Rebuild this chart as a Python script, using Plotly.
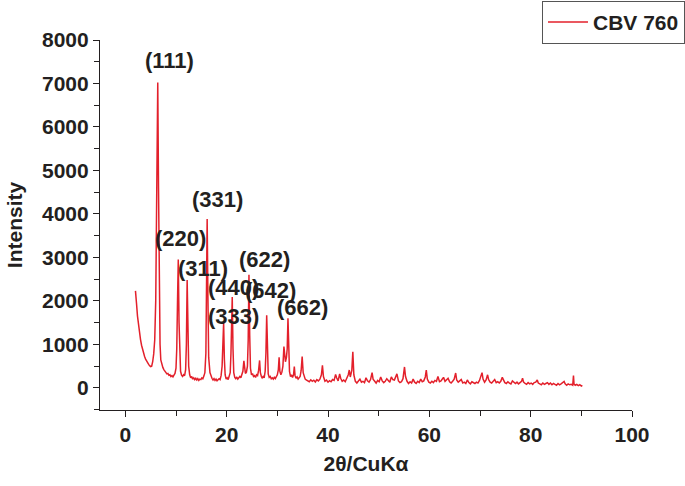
import plotly.graph_objects as go

two_theta = [
    2.0, 2.1, 2.2, 2.4, 2.6, 2.8, 3.0, 3.2, 3.4, 3.6, 3.8, 4.0, 4.2, 4.4, 4.6, 4.8, 5.0, 5.2, 5.4, 5.6, 5.8, 6.0, 6.2, 6.4, 6.55, 6.7, 6.85, 7.0,
    7.2, 7.4, 7.6, 7.8, 8.0, 8.2, 8.4, 8.6, 8.8, 9.0, 9.2, 9.4, 9.6, 9.8, 10.0, 10.15, 10.3, 10.45, 10.6, 10.75, 10.9,
    11.1, 11.3, 11.5, 11.7, 11.9, 12.05, 12.2, 12.35, 12.5, 12.7, 12.9, 13.1, 13.3, 13.5, 13.7, 13.9, 14.1, 14.3, 14.5,
    14.7, 14.9, 15.1, 15.3, 15.5, 15.7, 15.9, 16.05, 16.15, 16.3, 16.45, 16.7, 16.9, 17.1, 17.3, 17.5, 17.7, 17.9, 18.1,
    18.3, 18.5, 18.7, 18.9, 19.1, 19.25, 19.4, 19.55, 19.7, 19.9, 20.1, 20.3, 20.5, 20.7, 20.85, 21.0, 21.1, 21.25, 21.4,
    21.6, 21.8, 22.0, 22.2, 22.4, 22.6, 22.8, 23.0, 23.2, 23.4, 23.55, 23.7, 23.9, 24.1, 24.25, 24.4, 24.55, 24.7, 24.9,
    25.1, 25.3, 25.5, 25.7, 25.9, 26.1, 26.3, 26.5, 26.65, 26.85, 27.0, 27.2, 27.4, 27.6, 27.75, 27.9, 28.05, 28.2, 28.4,
    28.6, 28.8, 29.0, 29.2, 29.4, 29.6, 29.8, 30.0, 30.2, 30.35, 30.5, 30.7, 30.9, 31.1, 31.3, 31.45, 31.6, 31.8, 31.95,
    32.1, 32.25, 32.4, 32.6, 32.8, 33.0, 33.2, 33.35, 33.5, 33.7, 33.9, 34.1, 34.3, 34.5, 34.7, 34.9, 35.1, 35.3, 35.5,
    35.7, 35.9,
    36.0, 36.3, 36.6, 36.9, 37.2, 37.5, 37.8, 38.1, 38.4, 38.7, 38.9, 39.1, 39.4, 39.7, 40.0, 40.3, 40.6, 40.9, 41.2,
    41.5, 41.7, 42.0, 42.3, 42.5, 42.8, 43.1, 43.4, 43.7, 44.0, 44.2, 44.4, 44.7, 44.9, 45.1, 45.4, 45.7, 46.0, 46.3,
    46.6, 46.9, 47.2, 47.5, 47.8, 48.1, 48.4, 48.7, 48.9, 49.2, 49.5, 49.8, 50.1, 50.4, 50.7, 51.0, 51.3, 51.6, 51.9,
    52.2, 52.5, 52.8, 53.1, 53.4, 53.6, 53.9, 54.2, 54.5, 54.8, 55.1, 55.3, 55.6, 55.9, 56.2, 56.5, 56.8, 57.1, 57.4,
    57.7, 58.0, 58.3, 58.6, 58.9, 59.2, 59.4, 59.6, 59.9, 60.2, 60.5, 60.8, 61.1, 61.4, 61.7, 62.0, 62.3, 62.6, 62.8,
    63.1, 63.4, 63.7, 64.0, 64.3, 64.6, 64.9, 65.2, 65.4, 65.7, 66.0, 66.3, 66.6, 66.9, 67.2, 67.5, 67.8, 68.1, 68.4,
    68.7, 69.0, 69.3, 69.6, 69.9, 70.2, 70.4, 70.6, 70.9, 71.2, 71.5, 71.7, 72.0, 72.3, 72.6, 72.9, 73.2, 73.5, 73.8,
    74.1, 74.4, 74.6, 74.9, 75.2, 75.5, 75.8, 76.1, 76.4, 76.7, 77.0, 77.3, 77.6, 77.9, 78.2, 78.4, 78.6, 78.9, 79.2,
    79.5, 79.8, 80.1, 80.4, 80.7, 81.0, 81.3, 81.5, 81.8, 82.1, 82.4, 82.7, 83.0, 83.3, 83.6, 83.9, 84.2, 84.5, 84.8,
    85.1, 85.4, 85.7, 86.0, 86.3, 86.6, 86.8, 87.1, 87.4, 87.7, 88.0, 88.3, 88.45, 88.55, 88.8, 89.1, 89.4, 89.7, 90.0,
    90.2,
]

intensity = [
    2230, 2150, 1950, 1650, 1420, 1250, 1110, 980, 880, 800, 720, 660, 610, 570, 540, 510, 490, 500, 600, 780, 1100, 2000, 4300, 7020, 4600, 2000, 1000, 640,
    520, 470, 420, 380, 350, 320, 330, 290, 300, 260, 280, 250, 290, 330, 450, 900, 2000, 2950, 1500, 600, 380,
    290, 260, 300, 280, 420, 1000, 2480, 1300, 500, 300, 230, 260, 200, 230, 190, 220, 180, 210, 170,
    200, 190, 230, 210, 270, 350, 800, 2200, 3880, 2100, 700, 350, 250, 220, 180, 210, 170, 200, 160,
    190, 210, 190, 280, 500, 1000, 1490, 650, 300, 200, 230, 190, 250, 350, 800, 1600, 2090, 900, 350,
    240, 210, 250, 200, 230, 260, 230, 300, 380, 620, 400, 330, 360, 500, 1100, 2600, 1200, 450, 300,
    330, 260, 280, 240, 300, 280, 400, 630, 350, 260, 230, 260, 230, 380, 800, 1670, 700, 320, 240,
    260, 210, 230, 200, 240, 210, 260, 300, 420, 700, 380, 300, 360, 500, 950, 650, 600, 700, 900,
    1600, 800, 380, 260, 300, 240, 300, 490, 280, 220, 250, 200, 230, 260, 400, 720, 350, 230, 200,
    180, 160,
    170, 140, 185, 150, 175, 135, 190, 160, 200, 300, 520, 260, 150, 180, 130, 165, 140, 190, 170,
    310, 230, 160, 320, 220, 150, 180, 140, 210, 300, 410, 250, 400, 830, 300, 150, 110, 160, 200,
    130, 150, 120, 230, 160, 130, 190, 350, 200, 140, 110, 170, 140, 250, 160, 120, 150, 210, 170,
    130, 250, 190, 180, 260, 320, 160, 120, 140, 210, 480, 260, 150, 100, 140, 110, 200, 130, 100,
    150, 120, 200, 140, 160, 250, 410, 200, 130, 110, 150, 120, 170, 150, 260, 140, 160, 210, 240,
    150, 190, 220, 140, 110, 150, 200, 340, 180, 130, 150, 190, 110, 130, 100, 180, 120, 90, 140,
    110, 100, 130, 110, 170, 280, 350, 200, 130, 180, 300, 190, 130, 110, 150, 190, 120, 140, 110,
    150, 240, 180, 120, 100, 140, 110, 90, 160, 120, 100, 130, 90, 120, 150, 220, 130, 100, 80,
    120, 90, 110, 80, 120, 130, 180, 110, 90, 70, 110, 80, 100, 120, 80, 110, 70, 100, 80,
    60, 100, 70, 90, 120, 145, 90, 60, 90, 70, 80, 60, 280, 90, 60, 80, 50, 70, 40,
    55,
]

series_name = "CBV 760"
peak_labels = ["(111)", "(331)", "(220)", "(311)", "(622)", "(440)", "(642)", "(333)", "(662)"]
label_x = [8.7, 18.2, 10.9, 15.4, 27.4, 21.4, 28.7, 21.4, 35.0]
label_y = [7540, 4330, 3440, 2740, 2950, 2300, 2230, 1640, 1850]

x_ticks = [0, 20, 40, 60, 80, 100]
y_ticks = [0, 1000, 2000, 3000, 4000, 5000, 6000, 7000, 8000]

FONT = "Liberation Sans, Arial, Helvetica, sans-serif"
TXT = "#231f20"

fig = go.Figure()
fig.add_trace(go.Scatter(
    x=two_theta, y=intensity, mode="lines", name=series_name,
    line=dict(color="#e3202b", width=1.5),
))

for t, xx, yy in zip(peak_labels, label_x, label_y):
    fig.add_annotation(x=xx, y=yy, text=t, showarrow=False,
                       font=dict(family=FONT, size=22, color=TXT, weight="bold"),
                       xanchor="center", yanchor="middle")

fig.update_layout(
    width=685, height=486,
    margin=dict(l=100, r=53, t=40, b=76, autoexpand=False),
    plot_bgcolor="white", paper_bgcolor="white",
    font=dict(family=FONT, color=TXT, weight="bold"),
    showlegend=True,
    legend=dict(
        x=1.0996, xanchor="right", y=1.106, yanchor="top",
        bgcolor="white", bordercolor="#555555", borderwidth=1,
        font=dict(family=FONT, size=21, color=TXT, weight="bold"),
        itemwidth=40, tracegroupgap=0,
    ),
    xaxis=dict(
        range=[-5, 100], tickvals=x_ticks, ticks="outside", ticklen=6, tickwidth=1.2,
        tickcolor="#231f20", showline=True, linecolor="#231f20", linewidth=1.2,
        showgrid=False, zeroline=False, mirror=False,
        tickfont=dict(family=FONT, size=21, color=TXT, weight="bold"),
        minor=dict(dtick=10, tick0=0, ticks="outside", ticklen=5, tickcolor="#231f20", showgrid=False),
        title=dict(text="2θ/CuKα", font=dict(family=FONT, size=21, color=TXT, weight="bold"), standoff=11),
    ),
    yaxis=dict(
        range=[-510, 8000], tickvals=y_ticks, ticks="outside", ticklen=6, tickwidth=1.2,
        tickcolor="#231f20", showline=True, linecolor="#231f20", linewidth=1.2,
        showgrid=False, zeroline=False, mirror=False,
        tickfont=dict(family=FONT, size=21, color=TXT, weight="bold"),
        minor=dict(dtick=500, tick0=0, ticks="outside", ticklen=5, tickcolor="#231f20", showgrid=False),
        title=dict(text="Intensity", font=dict(family=FONT, size=21, color=TXT, weight="bold"), standoff=13),
    ),
)

fig.write_html("out.html", config={"displayModeBar": False},
               post_script="document.body.style.margin='0';")
